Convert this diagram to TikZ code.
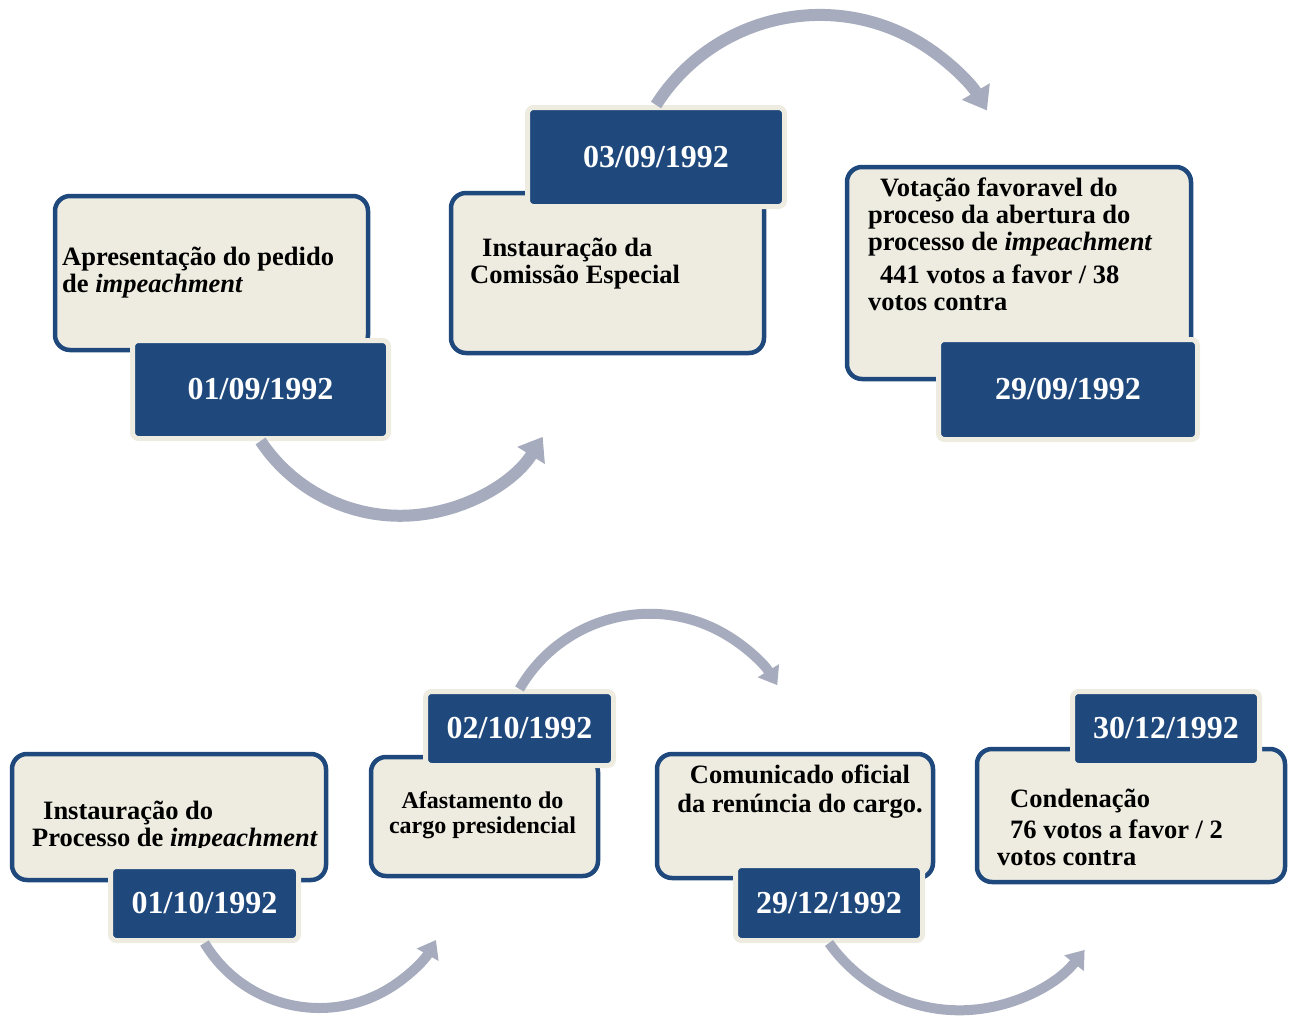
\documentclass[tikz,border=0pt]{standalone}
\usepackage{fontspec}
\setmainfont{Liberation Serif}
\usepackage{tikz}
\usetikzlibrary{arrows.meta}
\usetikzlibrary{positioning}
\definecolor{mdark}{RGB}{31, 73, 125}
\definecolor{mlight}{RGB}{238, 236, 225}
\definecolor{mflow}{RGB}{166, 172, 189}

\tikzset{
  box/.style={draw=mdark, fill=mlight, line width=4.5pt, rounded corners=15pt, inner sep=0pt},
  datebox/.style={draw=mlight, fill=mdark, line width=5pt, rounded corners=6pt, inner sep=0pt,
    text=white, font=\fontsize{32}{34}\selectfont\bfseries},
  txt/.style={inner sep=0pt, align=left, font=\fontsize{26.5}{27}\selectfont\bfseries},
  flow/.style={mflow, line width=12pt, -{Triangle[width=31pt,length=22pt]}},
  flowsmall/.style={mflow, line width=10pt, -{Triangle[width=24pt,length=17pt]}}
}

\begin{document}
\begin{tikzpicture}[x=1pt, y=-1pt]
      \useasboundingbox (0, 0) rectangle (1294, 1023);

      % first row
      \node [box, minimum width=313, minimum height=154] (bA) at (211.5, 273) {};
      \node [box, minimum width=313, minimum height=160] (bB) at (607.5, 273) {};
      \node [box, minimum width=344, minimum height=212] (bC) at (1019, 273) {};
      \node [datebox, minimum width=256, minimum height=98] (dA) at (260.5, 389.5) {01/09/1992};
      \node [datebox, minimum width=257, minimum height=99] (dB) at (656, 157) {03/09/1992};
      \node [datebox, minimum width=259, minimum height=100] (dC) at (1068, 389.5) {29/09/1992};

      \node [txt, anchor=base west] (tA) at (62, 292) {Apresentação do pedido\\de \textit{impeachment}};
      \node [txt, anchor=base west] (tB) at (470, 283) {\hspace*{12pt}Instauração da\\Comissão Especial};
      \node [txt, anchor=base west] (tC) at (868, 310) {\hspace*{12pt}Votação favoravel do\\proceso da abertura do\\processo de \textit{impeachment}\\[6pt]\hspace*{12pt}441 votos a favor / 38\\votos contra};

      \draw [flow] (dA.south) arc [start angle=146.3, end angle=32, radius=168];
      \draw [flow] (dB.north) arc [start angle=212.4, end angle=329.5, radius=194];

      % second row
      \node [box, minimum width=314, minimum height=126] (bD) at (169, 817) {};
      \node [box, minimum width=227, minimum height=119] (bE) at (484.5, 816.5) {};
      \node [box, minimum width=276, minimum height=124] (bF) at (795, 816) {};
      \node [box, minimum width=308, minimum height=133] (bG) at (1131, 815.5) {};

      \begin{scope}
        \clip (0, 700) rectangle (340, 847);
        \node [txt, anchor=base west] (tD) at (32, 846) {\hspace*{11pt}Instauração do\\Processo de \textit{impeachment}};
      \end{scope}
      \node [txt, anchor=base, align=center, font=\fontsize{24}{25}\selectfont\bfseries] (tE) at (482.5, 833) {Afastamento do\\cargo presidencial};
      \node [txt, anchor=base, align=center, font=\fontsize{26.5}{29}\selectfont\bfseries] (tF) at (800, 812) {Comunicado oficial\\da renúncia do cargo.};
      \node [txt, anchor=base west] (tG) at (997, 865) {\hspace*{13pt}Condenação\\[4pt]\hspace*{13pt}76 votos a favor / 2\\votos contra};

      \node [datebox, minimum width=188, minimum height=74] (dD) at (204.5, 903.5) {01/10/1992};
      \node [datebox, minimum width=188, minimum height=74] (dE) at (519.5, 728.5) {02/10/1992};
      \node [datebox, minimum width=187, minimum height=75] (dF) at (829, 903) {29/12/1992};
      \node [datebox, minimum width=187, minimum height=74] (dG) at (1166, 728.5) {30/12/1992};

      \draw [flowsmall] (dD.south) arc [start angle=149, end angle=29.5, radius=134];
      \draw [flowsmall] (dE.north) arc [start angle=209.9, end angle=328.4, radius=150];
      \draw [flowsmall] (dF.south) arc [start angle=144.6, end angle=38.5, radius=160];
\end{tikzpicture}
\end{document}
